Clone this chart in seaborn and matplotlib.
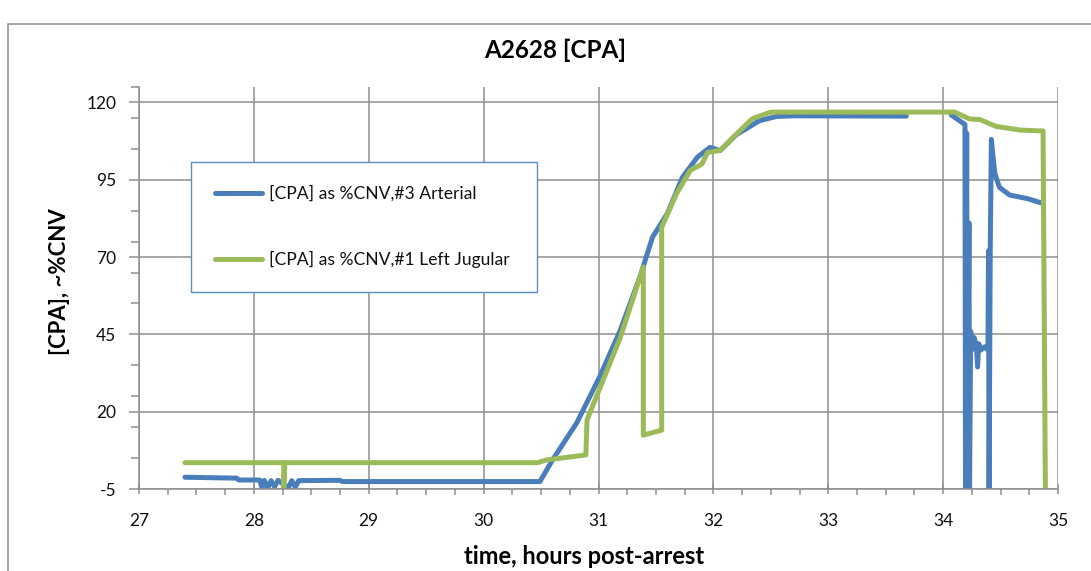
import numpy as np
import pandas as pd
import matplotlib
matplotlib.use("Agg")
import matplotlib.pyplot as plt
from matplotlib.ticker import MultipleLocator, FixedLocator
from matplotlib.patches import Rectangle
import seaborn as sns

# ---------------- data ----------------
series_names = ["[CPA] as %CNV,#3 Arterial", "[CPA] as %CNV,#1 Left Jugular"]

arterial_t_1 = [27.40, 27.85, 27.87, 28.05, 28.07, 28.09, 28.12, 28.15, 28.18, 28.21,
                28.30, 28.33, 28.36, 28.39, 28.75, 28.77, 30.49, 30.60, 30.81, 31.01,
                31.19, 31.36, 31.47, 31.60, 31.73, 31.86, 31.97, 32.06, 32.20, 32.40,
                32.55, 32.70, 33.68]
arterial_v_1 = [-1.1, -1.4, -2.0, -2.0, -4.4, -2.1, -4.6, -2.2, -4.2, -2.1,
                -4.5, -2.2, -4.3, -2.2, -2.1, -2.5, -2.5, 4.5, 16.4, 31.3,
                46.4, 63.5, 76.4, 84.1, 95.7, 102.2, 105.4, 104.4, 109.5, 114.0,
                115.4, 115.6, 115.5]

arterial_t_2 = [34.07, 34.19, 34.195, 34.205, 34.21, 34.225, 34.23, 34.24, 34.25, 34.27,
                34.29, 34.30, 34.31, 34.33, 34.36, 34.39, 34.395, 34.40, 34.41, 34.42,
                34.43, 34.45, 34.49, 34.58, 34.73, 34.87]
arterial_v_2 = [115.9, 112.8, -5.0, 110.0, -5.0, 81.0, -5.0, 46.0, 40.0, 44.0,
                41.0, 34.5, 42.0, 40.0, 41.0, 40.0, 72.0, -5.0, 72.0, 108.0,
                104.0, 97.0, 92.5, 90.0, 88.9, 87.3]

jugular_t = [27.40, 28.26, 28.26, 28.27, 30.47, 30.55, 30.89, 30.90, 31.01, 31.19,
             31.39, 31.39, 31.55, 31.55, 31.68, 31.80, 31.90, 31.95, 32.06, 32.17,
             32.34, 32.50, 34.10, 34.23, 34.32, 34.46, 34.67, 34.87, 34.89]
jugular_v = [3.6, 3.6, -5.0, 3.6, 3.6, 4.5, 6.1, 17.4, 27.5, 44.0,
             66.8, 12.5, 14.1, 79.6, 90.5, 98.0, 100.0, 103.8, 104.4, 108.6,
             114.7, 116.8, 116.8, 114.6, 114.4, 112.2, 111.0, 110.7, -5.0]

x_ticks = [27, 28, 29, 30, 31, 32, 33, 34, 35]
y_ticks = [-5, 20, 45, 70, 95, 120]
y_minor = [-5, 5, 15, 25, 35, 45, 55, 65, 75, 85, 95, 105, 115, 125]

title = "A2628 [CPA]"
x_label = "time, hours post-arrest"
y_label = "[CPA], ~%CNV"

colors = {series_names[0]: "#4A7EBB", series_names[1]: "#9BBB59"}

# ---------------- table for seaborn ----------------
frames = [
    pd.DataFrame({"time": arterial_t_1, "value": arterial_v_1,
                  "series": series_names[0], "segment": "a1"}),
    pd.DataFrame({"time": arterial_t_2, "value": arterial_v_2,
                  "series": series_names[0], "segment": "a2"}),
    pd.DataFrame({"time": jugular_t, "value": jugular_v,
                  "series": series_names[1], "segment": "j1"}),
]
df = pd.concat(frames, ignore_index=True)

# ---------------- style ----------------
sns.set_theme(style="white")
plt.rcParams["font.family"] = ["Lato", "DejaVu Sans"]
plt.rcParams["axes.unicode_minus"] = False

W, H = 1091, 571
fig = plt.figure(figsize=(W / 100, H / 100), dpi=100)
ax_left, ax_right, ax_top, ax_bottom = 139, 1058, 86.7, 489.3
ax = fig.add_axes([ax_left / W, 1 - ax_bottom / H,
                   (ax_right - ax_left) / W, (ax_bottom - ax_top) / H])

sns.lineplot(data=df, x="time", y="value", hue="series", units="segment",
             estimator=None, sort=False, palette=colors,
             hue_order=series_names, linewidth=3.6, ax=ax)

grid_c = "#8E8E8E"
ax.set_xlim(27, 35)
ax.set_ylim(-5, 125)
ax.xaxis.set_major_locator(FixedLocator(x_ticks))
ax.xaxis.set_minor_locator(MultipleLocator(0.25))
ax.yaxis.set_major_locator(FixedLocator(y_ticks))
ax.yaxis.set_minor_locator(FixedLocator(y_minor))
ax.grid(True, which="major", color=grid_c, linewidth=1.1)
ax.set_axisbelow(True)

for s in ["top", "right"]:
    ax.spines[s].set_visible(False)
for s in ["left", "bottom"]:
    ax.spines[s].set_color(grid_c)
    ax.spines[s].set_linewidth(1.1)

ax.tick_params(axis="x", which="major", direction="inout", length=7.2, width=1.1,
               color=grid_c, labelsize=12.5, labelcolor="#111111", pad=13.5, bottom=True)
ax.tick_params(axis="x", which="minor", direction="out", length=4.3, width=1.1,
               color=grid_c, bottom=True)
ax.tick_params(axis="y", which="major", direction="out", length=7.2, width=1.1,
               color=grid_c, labelsize=12.5, labelcolor="#111111", pad=9, left=True)
ax.tick_params(axis="y", which="minor", direction="out", length=5.8, width=1.1,
               color=grid_c, left=True)

ax.set_title(title, fontsize=17.5, fontweight="bold", x=(555 - ax_left) / (ax_right - ax_left),
             y=(ax_bottom - 50) / (ax_bottom - ax_top), va="center", pad=0, color="#000000")
ax.set_xlabel(x_label, fontsize=17, fontweight="bold", color="#000000", va="center")
ax.xaxis.set_label_coords((584 - ax_left) / (ax_right - ax_left),
                          (ax_bottom - 557) / (ax_bottom - ax_top))
ax.set_ylabel(y_label, fontsize=16, fontweight="bold", color="#000000", va="center")
ax.yaxis.set_label_coords((59 - ax_left) / (ax_right - ax_left),
                          (ax_bottom - 282) / (ax_bottom - ax_top))

handles, labels = ax.get_legend_handles_labels()
lx0 = (191 - ax_left) / (ax_right - ax_left)
lx1 = (537 - ax_left) / (ax_right - ax_left)
ly_top = (ax_bottom - 161.7) / (ax_bottom - ax_top)
ly_bot = (ax_bottom - 294) / (ax_bottom - ax_top)
leg = ax.legend(handles, labels, loc="upper left",
                bbox_to_anchor=(lx0, ly_bot, lx1 - lx0, ly_top - ly_bot),
                mode="expand", borderaxespad=0, fontsize=12.6, frameon=True,
                fancybox=False, shadow=False, framealpha=1, edgecolor="#5B8BC9",
                borderpad=1.37, labelspacing=2.8, handlelength=2.7, handletextpad=0.4)
leg.get_frame().set_linewidth(1.0)
for t in leg.get_texts():
    t.set_color("#111111")
for lh in leg.get_lines():
    lh.set_linewidth(3.6)

# outer chart border
fig.patches.append(Rectangle((8 / W, -0.1), 1.2, 1 - 24 / H + 0.1,
                             transform=fig.transFigure, fill=False,
                             edgecolor="#8A8A8A", linewidth=1.1))

fig.savefig("out.png", dpi=100)
